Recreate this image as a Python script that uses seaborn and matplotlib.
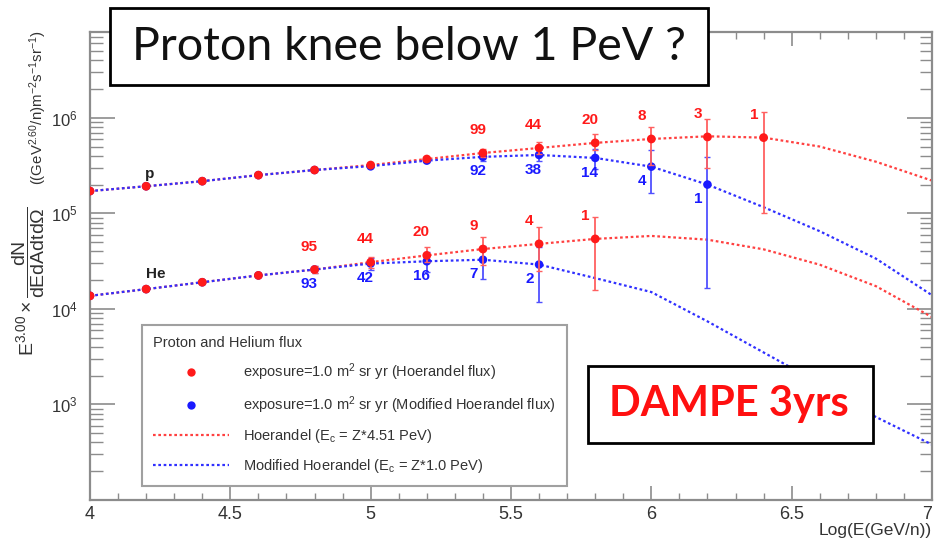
import numpy as np
import pandas as pd
import matplotlib
matplotlib.use("Agg")
import matplotlib.pyplot as plt
import matplotlib.ticker as mticker
from matplotlib.lines import Line2D
from matplotlib.patches import Rectangle
import seaborn as sns

# ---------------- data ----------------
curve_logE = [4.0, 4.2, 4.4, 4.6, 4.8, 5.0, 5.2, 5.4, 5.6, 5.8, 6.0, 6.2, 6.4, 6.6, 6.8, 7.0]
p_hoer_curve = [1.71e5, 1.92e5, 2.17e5, 2.51e5, 2.84e5, 3.2e5, 3.7e5, 4.28e5, 4.83e5, 5.46e5,
                6.0e5, 6.4e5, 6.2e5, 5.0e5, 3.47e5, 2.2e5]
p_mod_curve = [1.71e5, 1.92e5, 2.17e5, 2.51e5, 2.84e5, 3.12e5, 3.56e5, 3.9e5, 4.08e5, 3.8e5,
               3.08e5, 2.0e5, 1.16e5, 6.5e4, 3.36e4, 1.39e4]
he_hoer_curve = [1.37e4, 1.61e4, 1.90e4, 2.24e4, 2.58e4, 3.08e4, 3.63e4, 4.23e4, 4.79e4, 5.4e4,
                 5.8e4, 5.3e4, 4.2e4, 2.9e4, 1.73e4, 8.2e3]
he_mod_curve = [1.37e4, 1.61e4, 1.90e4, 2.24e4, 2.58e4, 2.98e4, 3.15e4, 3.27e4, 2.91e4, 2.1e4,
                1.5e4, 7.4e3, 3.5e3, 1.66e3, 740, 380]

# simulated points, Hoerandel flux (red)
p_hoer_logE = [4.0, 4.2, 4.4, 4.6, 4.8, 5.0, 5.2, 5.4, 5.6, 5.8, 6.0, 6.2, 6.4]
p_hoer_flux = [1.71e5, 1.92e5, 2.17e5, 2.51e5, 2.84e5, 3.2e5, 3.7e5, 4.28e5, 4.83e5, 5.46e5, 6.0e5, 6.3e5, 6.2e5]
p_hoer_lo = [1.70e5, 1.91e5, 2.16e5, 2.49e5, 2.81e5, 3.15e5, 3.6e5, 3.9e5, 4.15e5, 4.6e5, 3.2e5, 2.98e5, 1.0e5]
p_hoer_hi = [1.72e5, 1.93e5, 2.18e5, 2.53e5, 2.87e5, 3.25e5, 3.8e5, 4.7e5, 5.6e5, 6.8e5, 8.0e5, 9.75e5, 1.16e6]

he_hoer_logE = [4.0, 4.2, 4.4, 4.6, 4.8, 5.0, 5.2, 5.4, 5.6, 5.8]
he_hoer_flux = [1.37e4, 1.61e4, 1.90e4, 2.24e4, 2.58e4, 3.08e4, 3.63e4, 4.23e4, 4.79e4, 5.4e4]
he_hoer_lo = [1.36e4, 1.60e4, 1.88e4, 2.21e4, 2.35e4, 2.65e4, 3.1e4, 2.9e4, 2.5e4, 1.58e4]
he_hoer_hi = [1.38e4, 1.62e4, 1.92e4, 2.27e4, 2.82e4, 3.5e4, 4.4e4, 5.7e4, 7.2e4, 9.2e4]

# simulated points, modified Hoerandel flux (blue)
p_mod_logE = [4.0, 4.2, 4.4, 4.6, 4.8, 5.0, 5.2, 5.4, 5.6, 5.8, 6.0, 6.2]
p_mod_flux = [1.71e5, 1.92e5, 2.17e5, 2.51e5, 2.84e5, 3.1e5, 3.56e5, 3.9e5, 4.08e5, 3.8e5, 3.08e5, 2.0e5]
p_mod_lo = [1.70e5, 1.91e5, 2.16e5, 2.49e5, 2.81e5, 3.05e5, 3.48e5, 3.55e5, 3.5e5, 2.9e5, 1.62e5, 1.66e4]
p_mod_hi = [1.72e5, 1.93e5, 2.18e5, 2.53e5, 2.87e5, 3.15e5, 3.65e5, 4.3e5, 4.7e5, 4.7e5, 4.6e5, 3.88e5]

he_mod_logE = [4.0, 4.2, 4.4, 4.6, 4.8, 5.0, 5.2, 5.4, 5.6]
he_mod_flux = [1.37e4, 1.61e4, 1.90e4, 2.24e4, 2.58e4, 2.98e4, 3.15e4, 3.27e4, 2.91e4]
he_mod_lo = [1.36e4, 1.60e4, 1.88e4, 2.21e4, 2.35e4, 2.55e4, 2.45e4, 2.05e4, 1.18e4]
he_mod_hi = [1.38e4, 1.62e4, 1.92e4, 2.27e4, 2.82e4, 3.4e4, 3.9e4, 4.5e4, 4.4e4]

# event counts written next to the points
p_hoer_count_logE = [5.4, 5.6, 5.8, 6.0, 6.2, 6.4]
p_hoer_counts = [99, 44, 20, 8, 3, 1]
p_mod_count_logE = [5.4, 5.6, 5.8, 6.0, 6.2]
p_mod_counts = [92, 38, 14, 4, 1]
he_hoer_count_logE = [4.8, 5.0, 5.2, 5.4, 5.6, 5.8]
he_hoer_counts = [95, 44, 20, 9, 4, 1]
he_mod_count_logE = [4.8, 5.0, 5.2, 5.4, 5.6]
he_mod_counts = [93, 42, 16, 7, 2]

x_ticks = [4, 4.5, 5, 5.5, 6, 6.5, 7]
x_ticklabels = ["4", "4.5", "5", "5.5", "6", "6.5", "7"]
y_ticks = [1e3, 1e4, 1e5, 1e6]
y_ticklabels = ["$10^{3}$", "$10^{4}$", "$10^{5}$", "$10^{6}$"]

legend_title = "Proton and Helium flux"
legend_labels = ["exposure=1.0 m$^{2}$ sr yr (Hoerandel flux)",
                 "exposure=1.0 m$^{2}$ sr yr (Modified Hoerandel flux)",
                 "Hoerandel (E$_{c}$ = Z*4.51 PeV)",
                 "Modified Hoerandel (E$_{c}$ = Z*1.0 PeV)"]

# ---------------- style ----------------
sns.set_theme(style="ticks")
plt.rcParams["font.family"] = ["Liberation Sans", "DejaVu Sans"]
plt.rcParams["mathtext.default"] = "regular"
plt.rcParams["mathtext.fontset"] = "custom"
plt.rcParams["mathtext.rm"] = "Liberation Sans"
plt.rcParams["mathtext.it"] = "Liberation Sans"
plt.rcParams["mathtext.bf"] = "Liberation Sans:bold"

RED = "#ff1a1a"
BLUE = "#1a1aff"
RED_LINE = "#ff4040"
BLUE_LINE = "#3030ff"
FRAME = "#8c8c8c"
TXT = "#333333"

fig = plt.figure(figsize=(9.35, 5.44), dpi=100)
ax = fig.add_axes([90 / 935, 44 / 544, 842 / 935, 468 / 544])
ax.set_yscale("log")

# ---------------- curves ----------------
n = len(curve_logE)
curves = pd.DataFrame({
    "logE": curve_logE * 4,
    "flux": p_hoer_curve + p_mod_curve + he_hoer_curve + he_mod_curve,
    "model": ["Hoerandel"] * n + ["Modified"] * n + ["Hoerandel"] * n + ["Modified"] * n,
    "species": ["p"] * (2 * n) + ["He"] * (2 * n),
})
curves["curve"] = curves["model"] + "_" + curves["species"]
sns.lineplot(data=curves, x="logE", y="flux", hue="model", units="curve", estimator=None,
             palette={"Hoerandel": RED_LINE, "Modified": BLUE_LINE}, linestyle=(0, (1.2, 1.2)),
             linewidth=1.6, legend=False, sort=False, ax=ax, zorder=2)

# ---------------- error bars + points ----------------
def draw_points(xs, ys, lo, hi, color, ecolor, size, z):
    ys_a = np.array(ys)
    yerr = [ys_a - np.array(lo), np.array(hi) - ys_a]
    ax.errorbar(xs, ys, yerr=yerr, fmt="none", ecolor=ecolor, elinewidth=1.3,
                capsize=2, capthick=1.0, zorder=z)
    sns.scatterplot(x=xs, y=ys, color=color, s=size, edgecolor="none", linewidth=0,
                    ax=ax, zorder=z + 0.5, legend=False)

draw_points(p_mod_logE, p_mod_flux, p_mod_lo, p_mod_hi, BLUE, "#5050ff", 38, 3)
draw_points(he_mod_logE, he_mod_flux, he_mod_lo, he_mod_hi, BLUE, "#5050ff", 38, 3)
draw_points(p_hoer_logE, p_hoer_flux, p_hoer_lo, p_hoer_hi, RED, "#ff6060", 40, 4)
draw_points(he_hoer_logE, he_hoer_flux, he_hoer_lo, he_hoer_hi, RED, "#ff6060", 40, 4)

# ---------------- count labels ----------------
def label_counts(cx, counts, px, py, color, dy):
    lookup = dict(zip(px, py))
    for x, c in zip(cx, counts):
        ax.annotate(str(c), (x, lookup[x]), xytext=(-10, dy), textcoords="offset points",
                    ha="left", va="center", color=color, fontsize=11, fontweight="bold",
                    zorder=6)

label_counts(p_hoer_count_logE, p_hoer_counts, p_hoer_logE, p_hoer_flux, RED, 16.5)
label_counts(he_hoer_count_logE, he_hoer_counts, he_hoer_logE, he_hoer_flux, RED, 16.5)
label_counts(p_mod_count_logE, p_mod_counts, p_mod_logE, p_mod_flux, BLUE, -10.5)
label_counts(he_mod_count_logE, he_mod_counts, he_mod_logE, he_mod_flux, BLUE, -10.5)

ax.text(4.197, 2.6e5, "p", ha="left", va="center", fontsize=11, fontweight="bold", color="#222222")
ax.text(4.2, 2.33e4, "He", ha="left", va="center", fontsize=11, fontweight="bold", color="#222222")

# ---------------- axes ----------------
ax.set_xlim(4, 7)
ax.set_ylim(100, 7.9e6)
ax.set_xticks(x_ticks)
ax.set_xticklabels(x_ticklabels)
ax.get_xticklabels()[-1].set_ha("right")
ax.xaxis.set_minor_locator(mticker.MultipleLocator(0.1))
ax.yaxis.set_major_locator(mticker.FixedLocator(y_ticks))
ax.yaxis.set_major_formatter(mticker.FixedFormatter(y_ticklabels))
ax.yaxis.set_minor_locator(mticker.LogLocator(base=10, subs=np.arange(2, 10), numticks=20))
ax.yaxis.set_minor_formatter(mticker.NullFormatter())

for s in ax.spines.values():
    s.set_color(FRAME)
    s.set_linewidth(1.6)
    s.set_visible(True)
ax.tick_params(axis="x", which="major", direction="in", length=10, width=1.2, color=FRAME,
               top=True, bottom=True, labelsize=13, labelcolor=TXT, pad=4)
ax.tick_params(axis="x", which="minor", direction="in", length=5, width=1.0, color=FRAME,
               top=True, bottom=True)
ax.tick_params(axis="y", which="major", direction="in", length=18, width=1.2, color=FRAME,
               left=True, right=True, labelsize=12, labelcolor=TXT, pad=9)
ax.tick_params(axis="y", which="minor", direction="in", length=9, width=1.0, color=FRAME,
               left=True, right=True)

ax.set_xlabel("Log(E(GeV/n))", loc="right", fontsize=12.5, color=TXT)
ax.xaxis.set_label_coords(1.0, -0.05)
ax.xaxis.label.set_va("top")

# y-axis title: units part (as the axis label) and the big fraction part below it
ax.set_ylabel("((GeV$^{2.60}$/n)m$^{-2}$s$^{-1}$sr$^{-1}$)", loc="top", fontsize=10.8, color=TXT)
ax.yaxis.set_label_coords(-0.0485, 1.004)
fig.text(29 / 935, 1 - 206 / 544, r"$E^{3.00} \times \dfrac{dN}{dEdAdtd\Omega}$",
         rotation=90, ha="center", va="top", fontsize=14, color=TXT)

# ---------------- legend ----------------
handles = [
    Line2D([], [], color=RED, marker="o", linestyle="none", markersize=6, markeredgewidth=0),
    Line2D([], [], color=BLUE, marker="o", linestyle="none", markersize=6, markeredgewidth=0),
    Line2D([], [], color=RED_LINE, linestyle=(0, (1.2, 1.2)), linewidth=1.6),
    Line2D([], [], color=BLUE_LINE, linestyle=(0, (1.2, 1.2)), linewidth=1.6),
]
leg = ax.legend(handles, legend_labels, title=legend_title, loc="upper left",
                bbox_to_anchor=(52 / 842, 0.0, 425 / 842, 175 / 468), mode="expand",
                borderaxespad=0, frameon=True, fancybox=False, framealpha=1,
                edgecolor="#a0a0a0", fontsize=10.5, title_fontsize=10.5,
                handlelength=5.2, handletextpad=1.0, borderpad=0.75, labelspacing=0.78,
                alignment="left")
leg.get_frame().set_linewidth(1.5)
for t in leg.get_texts():
    t.set_color(TXT)
leg.get_title().set_color(TXT)
leg.set_zorder(7)

# ---------------- overlay boxes ----------------
fig.patches.append(Rectangle((110 / 935, 1 - 85 / 544), 598 / 935, 77 / 544,
                             transform=fig.transFigure, facecolor="white",
                             edgecolor="black", linewidth=2, zorder=10))
fig.text(409 / 935, 1 - 47 / 544, "Proton knee below 1 PeV ?", ha="center", va="center",
         fontsize=33.5, family=["Lato", "DejaVu Sans"], color="#111111", zorder=11)

fig.patches.append(Rectangle((588 / 935, 1 - 443 / 544), 285 / 935, 77 / 544,
                             transform=fig.transFigure, facecolor="white",
                             edgecolor="black", linewidth=2, zorder=10))
fig.text(729 / 935, 1 - 404 / 544, "DAMPE 3yrs", ha="center", va="center",
         fontsize=30, fontweight="bold", family=["Lato", "DejaVu Sans"], color="#ff1010",
         zorder=11)

fig.savefig("out.png", dpi=100)
